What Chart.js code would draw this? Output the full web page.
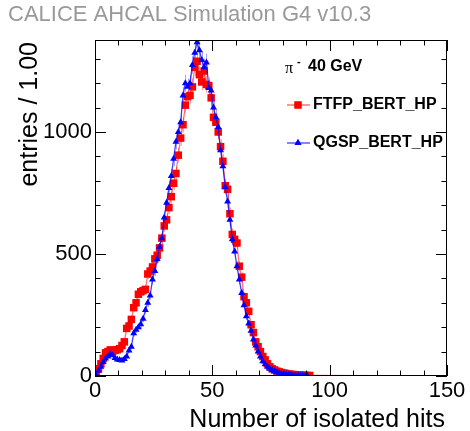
<!DOCTYPE html>
<html><head><meta charset="utf-8">
<script src="https://cdn.jsdelivr.net/npm/chart.js@4.4.0/dist/chart.umd.min.js"></script>
<style>html,body{margin:0;padding:0;background:#fff;overflow:hidden}</style>
</head><body>
<canvas id="c" width="470" height="431"></canvas>
<script>
const chartTitle = "CALICE AHCAL Simulation G4 v10.3";
const xAxisTitle = "Number of isolated hits";
const yAxisTitle = "entries / 1.00";
const beamLabel = ["π", "-", "40 GeV"];
const seriesNames = ["FTFP_BERT_HP", "QGSP_BERT_HP"];
const xTicks = [0, 50, 100, 150];
const yTicks = [0, 500, 1000];

const binCenters = [0.5,1.5,2.5,3.5,4.5,5.5,6.5,7.5,8.5,9.5,
  10.5,11.5,12.5,13.5,14.5,15.5,16.5,17.5,18.5,19.5,
  20.5,21.5,22.5,23.5,24.5,25.5,26.5,27.5,28.5,29.5,
  30.5,31.5,32.5,33.5,34.5,35.5,36.5,37.5,38.5,39.5,
  40.5,41.5,42.5,43.5,44.5,45.5,46.5,47.5,48.5,49.5,
  50.5,51.5,52.5,53.5,54.5,55.5,56.5,57.5,58.5,59.5,
  60.5,61.5,62.5,63.5,64.5,65.5,66.5,67.5,68.5,69.5,
  70.5,71.5,72.5,73.5,74.5,75.5,76.5,77.5,78.5,79.5,
  80.5,81.5,82.5,83.5,84.5,85.5,86.5,87.5,88.5,89.5,
  90.5,91.5,149.5];

const ftfpBertHp = [12,30,50,72,95,100,107,100,105,108,
  112,125,140,195,205,232,280,300,335,345,
  350,355,418,430,447,480,495,525,565,615,
  640,690,735,790,830,905,975,1030,1110,1145,
  1150,1185,1265,1290,1235,1205,1250,1195,1190,1140,
  1060,1040,1000,940,880,780,765,665,580,560,
  545,450,405,325,300,265,210,178,140,120,
  100,80,66,50,38,30,25,20,17,14,
  12,10,8,7,6,5,4,4,3,3,
  2,2,0];

const qgspBertHp = [5,22,38,57,72,80,90,85,74,68,
  66,64,70,80,105,120,175,190,200,212,
  235,270,300,330,395,430,480,530,565,650,
  710,770,820,890,960,1000,1040,1150,1200,1185,
  1200,1275,1325,1368,1335,1295,1265,1285,1180,1170,
  1100,1060,1020,925,860,775,715,640,560,510,
  450,395,340,290,245,215,185,150,125,100,
  80,60,48,38,30,24,19,15,12,10,
  8,7,6,5,4,3,3,2,2,1,
  1,0,0];

const FONT = "'Liberation Sans', Arial, Helvetica, sans-serif";

function pts(vals){ return binCenters.map((x,i)=>({x:x, y:vals[i]})); }

const frameTicks = {
  id:'frameTicks',
  beforeDatasetsDraw(chart){
    const {ctx, chartArea:a, scales:{x,y}} = chart;
    ctx.save();
    ctx.beginPath(); ctx.rect(a.left,a.top,a.right-a.left,a.bottom-a.top); ctx.clip();
    chart.data.datasets.forEach(ds=>{
      ctx.strokeStyle = ds.errColor; ctx.lineWidth = 1;
      ds.data.forEach(p=>{
        if(p.y<=0) return;
        const e = Math.sqrt(p.y);
        const px = Math.round(x.getPixelForValue(p.x))+0.5;
        ctx.beginPath();
        ctx.moveTo(px, y.getPixelForValue(p.y-e));
        ctx.lineTo(px, y.getPixelForValue(p.y+e));
        ctx.stroke();
      });
    });
    ctx.restore();
  },
  afterDraw(chart){
    const {ctx, chartArea:a, scales:{x,y}} = chart;
    ctx.save();
    ctx.strokeStyle='#000'; ctx.lineWidth=1;
    ctx.strokeRect(a.left+0.5,a.top+0.5,a.right-a.left-1,a.bottom-a.top-1);
    ctx.beginPath();
    for(let v=0; v<=150; v+=10){
      const px = Math.round(x.getPixelForValue(v))+0.5;
      const L = v%50===0 ? 11 : 5.5;
      ctx.moveTo(px,a.bottom); ctx.lineTo(px,a.bottom-L);
      ctx.moveTo(px,a.top); ctx.lineTo(px,a.top+L);
    }
    for(let v=0; v<=1300; v+=100){
      const py = Math.round(y.getPixelForValue(v))+0.5;
      const L = v%500===0 ? 11 : 5.5;
      ctx.moveTo(a.left,py); ctx.lineTo(a.left+L,py);
      ctx.moveTo(a.right,py); ctx.lineTo(a.right-L,py);
    }
    ctx.stroke();
    ctx.fillStyle='#999';
    ctx.font = "22px "+FONT; ctx.textBaseline='alphabetic'; ctx.textAlign='left';
    ctx.fillText(chartTitle, 8, 21);
    ctx.fillStyle='#000';
    ctx.font = "25px "+FONT; ctx.textAlign='right';
    ctx.fillText(xAxisTitle, 445, 427);
    ctx.save();
    ctx.translate(37, 42); ctx.rotate(-Math.PI/2);
    ctx.textAlign='right';
    ctx.fillText(yAxisTitle, 0, 0);
    ctx.restore();
    // legend
    ctx.textAlign='left'; ctx.textBaseline='middle';
    ctx.font = "16px 'Liberation Serif', 'DejaVu Serif', serif";
    ctx.fillText(beamLabel[0], 285, 69);
    ctx.font = "bold 11px "+FONT;
    ctx.fillText(beamLabel[1], 297, 62);
    ctx.font = "bold 16px "+FONT;
    ctx.fillText(beamLabel[2], 308, 67);
    const rows = [{y:105, c:'#ff0000', lc:'rgba(255,0,0,0.7)', s:'rect', r:5, n:seriesNames[0]},
                  {y:143, c:'#0000ff', lc:'rgba(0,0,255,0.8)', s:'triangle', r:4, n:seriesNames[1]}];
    rows.forEach(rw=>{
      ctx.strokeStyle=rw.lc; ctx.lineWidth=1.2;
      ctx.beginPath(); ctx.moveTo(287,rw.y); ctx.lineTo(310,rw.y); ctx.stroke();
      ctx.fillStyle=rw.c;
      Chart.helpers.drawPoint(ctx,{pointStyle:rw.s, radius:rw.r, borderWidth:0}, 298, rw.y);
      ctx.fill();
      ctx.fillStyle='#000';
      ctx.font = "bold 16px "+FONT;
      ctx.fillText(rw.n, 313, rw.y);
    });
    ctx.restore();
  }
};

new Chart(document.getElementById('c'), {
  type:'line',
  data:{datasets:[
    {label:seriesNames[1], data:pts(qgspBertHp), borderColor:'rgba(0,0,255,0.75)', borderWidth:1.3,
     backgroundColor:'#0000ff', pointBackgroundColor:'#0000ff', pointBorderWidth:0,
     pointStyle:'triangle', pointRadius:ctx=>ctx.raw && ctx.raw.y>0 ? 4 : 0,
     errColor:'rgba(90,90,255,0.55)', tension:0, fill:false},
    {label:seriesNames[0], data:pts(ftfpBertHp), borderColor:'rgba(255,0,0,0.55)', borderWidth:1.3,
     backgroundColor:'#ff0000', pointBackgroundColor:'#ff0000', pointBorderWidth:0,
     pointStyle:'rect', pointRadius:ctx=>ctx.raw && ctx.raw.y>0 ? 5.3 : 0,
     errColor:'rgba(255,90,90,0.55)', tension:0, fill:false}
  ]},
  options:{
    responsive:false, animation:false, devicePixelRatio:1,
    layout:{padding:{top:40,right:23,left:0,bottom:0}},
    plugins:{legend:{display:false}, tooltip:{enabled:false}, title:{display:false}},
    scales:{
      x:{type:'linear', min:0, max:150,
         afterFit(s){ s.height = 55; },
         afterBuildTicks(s){ s.ticks = xTicks.map(v=>({value:v})); },
         grid:{display:false, drawTicks:false}, border:{display:false},
         ticks:{font:{family:FONT,size:22}, color:'#000', padding:2, maxRotation:0, autoSkip:false,
                callback:v=>String(v)}},
      y:{type:'linear', min:0, max:1377,
         afterFit(s){ s.width = 95; },
         afterBuildTicks(s){ s.ticks = yTicks.map(v=>({value:v})); },
         grid:{display:false, drawTicks:false}, border:{display:false},
         ticks:{font:{family:FONT,size:22}, color:'#000', padding:3, autoSkip:false,
                callback:v=>String(v)}}
    }
  },
  plugins:[frameTicks]
});
</script>
</body></html>
